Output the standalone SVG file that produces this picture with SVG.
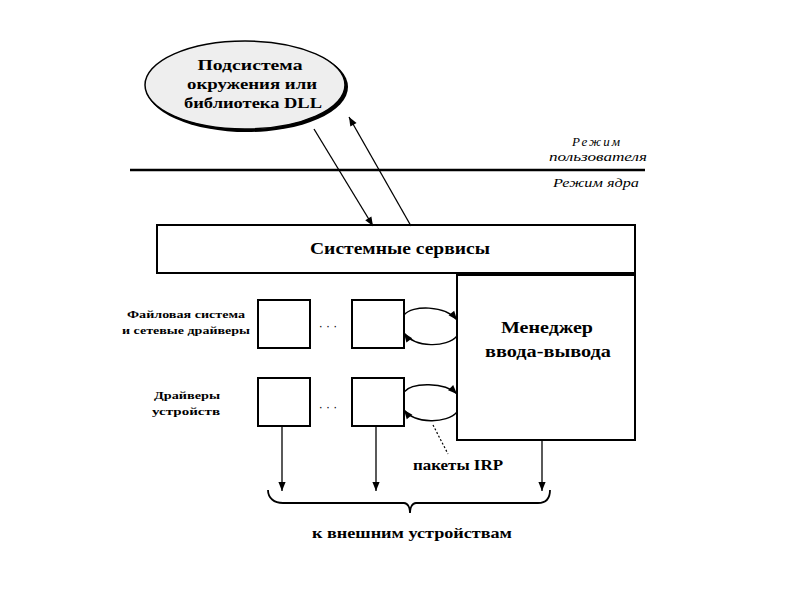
<svg xmlns="http://www.w3.org/2000/svg" width="800" height="600" viewBox="0 0 800 600">
<style>
.b{fill:#fff;stroke:#000;stroke-width:2}
.t{font-family:"Liberation Serif",serif;font-weight:bold;fill:#000;text-anchor:middle}
.i{font-family:"Liberation Serif",serif;font-style:italic;fill:#000;text-anchor:middle;font-size:13px}
.c{fill:none;stroke:#000;stroke-width:1.3}
</style>
<defs>
<marker id="a" viewBox="0 0 10 10" refX="10" refY="5" markerWidth="12" markerHeight="9" orient="auto" markerUnits="userSpaceOnUse">
<path d="M0,1 L10,5 L0,9 Z" fill="#000"/>
</marker>
</defs>
<rect width="800" height="600" fill="#fff"/>
<g id="env">
<ellipse cx="247" cy="87" rx="101" ry="45" fill="#000"/>
<ellipse cx="245" cy="85" rx="100" ry="44" fill="#eee" stroke="#000" stroke-width="1.5"/>
<text class="t" x="250" y="70" font-size="15" textLength="105" lengthAdjust="spacingAndGlyphs">Подсистема</text>
<text class="t" x="252" y="89" font-size="15" textLength="130" lengthAdjust="spacingAndGlyphs">окружения или</text>
<text class="t" x="253" y="108" font-size="15" textLength="138" lengthAdjust="spacingAndGlyphs">библиотека DLL</text>
</g>
<g id="modes">
<line x1="130" y1="170" x2="645" y2="170" stroke="#000" stroke-width="2.5"/>
<text class="i" x="596" y="146" textLength="48">Режим</text>
<text class="i" x="598" y="161" textLength="98" lengthAdjust="spacingAndGlyphs">пользователя</text>
<text class="i" x="596" y="187" textLength="86" lengthAdjust="spacingAndGlyphs">Режим ядра</text>
</g>
<g id="services">
<rect class="b" x="157" y="225" width="478" height="48"/>
<text class="t" x="400" y="254" font-size="16" textLength="180" lengthAdjust="spacingAndGlyphs">Системные сервисы</text>
</g>
<g id="manager">
<rect class="b" x="457" y="275" width="178" height="165"/>
<text class="t" x="547" y="333" font-size="17" textLength="92" lengthAdjust="spacingAndGlyphs">Менеджер</text>
<text class="t" x="548" y="357" font-size="17" textLength="126" lengthAdjust="spacingAndGlyphs">ввода-вывода</text>
</g>
<g id="fs-label">
<text class="t" x="186" y="318" font-size="11" textLength="118" lengthAdjust="spacingAndGlyphs">Файловая система</text>
<text class="t" x="186" y="334" font-size="11" textLength="128" lengthAdjust="spacingAndGlyphs">и сетевые драйверы</text>
</g>
<g id="dev-label">
<text class="t" x="187" y="399" font-size="11" textLength="66" lengthAdjust="spacingAndGlyphs">Драйверы</text>
<text class="t" x="186" y="415" font-size="11" textLength="68" lengthAdjust="spacingAndGlyphs">устройств</text>
</g>
<g id="fs1"><rect class="b" x="258" y="300" width="52" height="48" stroke-width="1.5"/></g>
<g id="fs2"><rect class="b" x="352" y="300" width="52" height="48" stroke-width="1.5"/></g>
<g id="dev1"><rect class="b" x="258" y="378" width="52" height="48" stroke-width="1.5"/></g>
<g id="dev2"><rect class="b" x="352" y="378" width="52" height="48" stroke-width="1.5"/></g>
<g id="dots" font-family="Liberation Sans,sans-serif" font-size="12" text-anchor="middle">
<text x="328" y="330">· · ·</text>
<text x="328" y="411">· · ·</text>
</g>
<g id="irp-label">
<text class="t" x="458" y="470" font-size="14" textLength="90" lengthAdjust="spacingAndGlyphs">пакеты IRP</text>
</g>
<g id="dest-label">
<text class="t" x="412" y="538" font-size="14" textLength="200" lengthAdjust="spacingAndGlyphs">к  внешним устройствам</text>
</g>
<g id="connectors">
<line class="c" x1="314" y1="129" x2="373" y2="226" marker-end="url(#a)"/>
<line class="c" x1="411" y1="226" x2="349" y2="117" marker-end="url(#a)"/>
<path class="c" d="M404,315 C412,305 445,305 457,320" marker-end="url(#a)"/>
<path class="c" d="M457,336 C447,348 415,348 404,333" marker-end="url(#a)"/>
<path class="c" d="M404,392 C412,382 445,382 457,394" marker-end="url(#a)"/>
<path class="c" d="M457,412 C447,424 415,424 404,410" marker-end="url(#a)"/>
<line x1="433" y1="425" x2="448" y2="454" stroke="#000" stroke-width="1.2" stroke-dasharray="2,2"/>
<line class="c" x1="282" y1="426" x2="282" y2="491" marker-end="url(#a)"/>
<line class="c" x1="376" y1="426" x2="376" y2="491" marker-end="url(#a)"/>
<line class="c" x1="542" y1="440" x2="542" y2="491" marker-end="url(#a)"/>
<path d="M268,490 C268,498 274,503 283,503 L404,503 C408,503 410,508 410,513 C410,508 412,503 416,503 L538,503 C546,503 550,498 550,490" fill="none" stroke="#000" stroke-width="1.8"/>
</g>
</svg>
